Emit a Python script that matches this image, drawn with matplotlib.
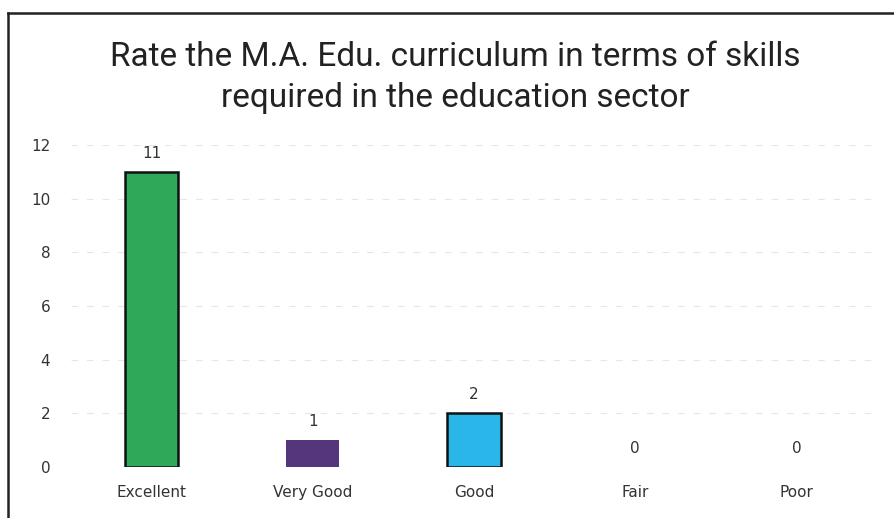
import matplotlib.pyplot as plt
from matplotlib.lines import Line2D

categories = ["Excellent", "Very Good", "Good", "Fair", "Poor"]
counts = [11, 1, 2, 0, 0]
colors = ["#2fa85a", "#55357b", "#2bb6ea", "#2bb6ea", "#2bb6ea"]
edges = ["#111111", "none", "#111111", "none", "none"]
yticks = [0, 2, 4, 6, 8, 10, 12]

fig = plt.figure(figsize=(8.94, 5.18), dpi=100)
ax = fig.add_axes([71 / 894, 1 - 467 / 518, 806 / 894, 322 / 518])

bars = ax.bar(range(len(categories)), counts, width=0.33, color=colors,
              edgecolor=edges, linewidth=1.8, zorder=3)

for i, v in enumerate(counts):
    ax.annotate(str(v), (i, v), xytext=(0, 8), textcoords="offset points",
                ha="center", va="bottom", fontsize=11, color="#333333")

ax.set_xlim(-0.5, len(categories) - 0.5)
ax.set_ylim(0, 12)
ax.set_yticks(yticks)
ax.set_xticks(range(len(categories)))
ax.set_xticklabels(categories)
ax.tick_params(length=0, labelsize=11, colors="#333333")
ax.tick_params(axis="y", pad=15)
ax.tick_params(axis="x", pad=13)
ax.grid(axis="y", color="#e6e6e6", linewidth=0.8, linestyle=(0, (6, 8)), zorder=0)
for s in ax.spines.values():
    s.set_visible(False)

fig.text(455 / 894, 1 - 77.5 / 518,
         "Rate the M.A. Edu. curriculum in terms of skills\nrequired in the education sector",
         ha="center", va="center", fontsize=24, linespacing=1.32,
         family=["Roboto", "DejaVu Sans"], color="#222222")

# outer frame (top and left edges)
fig.add_artist(Line2D([8 / 894, 1], [1 - 13 / 518] * 2, color="#222222", lw=1.8))
fig.add_artist(Line2D([8 / 894] * 2, [0, 1 - 13 / 518], color="#222222", lw=1.8))

fig.savefig("out.png", dpi=100)
